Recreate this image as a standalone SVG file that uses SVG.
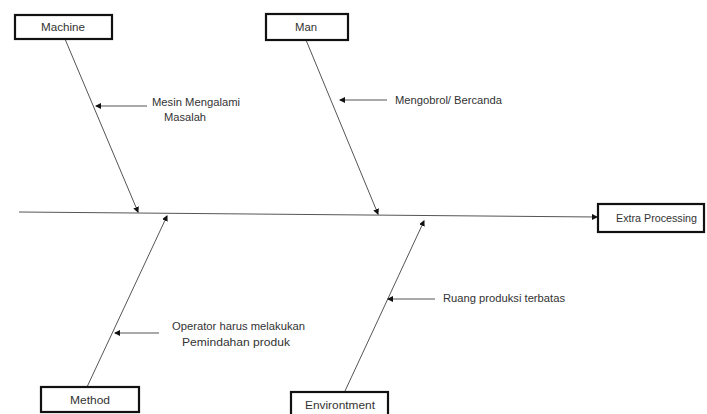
<svg xmlns="http://www.w3.org/2000/svg" width="707" height="414" viewBox="0 0 707 414">
<style>
.box{fill:#fff;stroke:#111;stroke-width:2.2}
.ln{stroke:#555;stroke-width:1;fill:none}
.t{font-family:"Liberation Sans",Arial,sans-serif;font-size:10px;fill:#333}
.b{font-size:11px}
.c{text-anchor:middle}
</style>
<defs>
<marker id="ah" markerWidth="6" markerHeight="6" refX="5" refY="3" orient="auto" markerUnits="userSpaceOnUse">
<path d="M0,0 L6,3 L0,6 Z" fill="#111"/>
</marker>
</defs>
<rect width="707" height="414" fill="#fff"/>
<g id="connectors">
<line class="ln" x1="19" y1="212" x2="597" y2="217" marker-end="url(#ah)"/>
<line class="ln" x1="65" y1="39" x2="138" y2="212" marker-end="url(#ah)"/>
<line class="ln" x1="306" y1="40" x2="378" y2="214" marker-end="url(#ah)"/>
<line class="ln" x1="87" y1="387" x2="167" y2="216" marker-end="url(#ah)"/>
<line class="ln" x1="345" y1="391" x2="424" y2="221" marker-end="url(#ah)"/>
<line class="ln" x1="147" y1="106" x2="96" y2="106" marker-end="url(#ah)"/>
<line class="ln" x1="387" y1="100" x2="340" y2="100" marker-end="url(#ah)"/>
<line class="ln" x1="159" y1="333" x2="115" y2="333" marker-end="url(#ah)"/>
<line class="ln" x1="435" y1="299" x2="388" y2="299" marker-end="url(#ah)"/>
</g>
<g id="machine"><rect class="box" x="15" y="15" width="97" height="24"/><text class="t b" x="41" y="31" textLength="44" lengthAdjust="spacingAndGlyphs">Machine</text></g>
<g id="man"><rect class="box" x="266" y="14" width="82" height="26"/><text class="t b" x="295" y="31" textLength="22" lengthAdjust="spacingAndGlyphs">Man</text></g>
<g id="method"><rect class="box" x="41" y="387" width="98" height="25"/><text class="t b" x="70" y="404" textLength="40" lengthAdjust="spacingAndGlyphs">Method</text></g>
<g id="environment"><rect class="box" x="291" y="392" width="97" height="26"/><text class="t b" x="305" y="409" textLength="70" lengthAdjust="spacingAndGlyphs">Environtment</text></g>
<g id="effect"><rect class="box" x="598" y="204" width="106" height="28"/><text class="t b" x="616" y="222" textLength="81" lengthAdjust="spacingAndGlyphs">Extra Processing</text></g>
<g id="labels">
<text class="t" x="152" y="106" textLength="88" lengthAdjust="spacingAndGlyphs">Mesin Mengalami</text>
<text class="t" x="164" y="121" textLength="42" lengthAdjust="spacingAndGlyphs">Masalah</text>
<text class="t" x="395" y="104" textLength="107" lengthAdjust="spacingAndGlyphs">Mengobrol/ Bercanda</text>
<text class="t" x="172" y="330" textLength="133" lengthAdjust="spacingAndGlyphs">Operator harus melakukan</text>
<text class="t" x="182" y="346" textLength="108" lengthAdjust="spacingAndGlyphs">Pemindahan produk</text>
<text class="t" x="443" y="302" textLength="122" lengthAdjust="spacingAndGlyphs">Ruang produksi terbatas</text>
</g>
</svg>
